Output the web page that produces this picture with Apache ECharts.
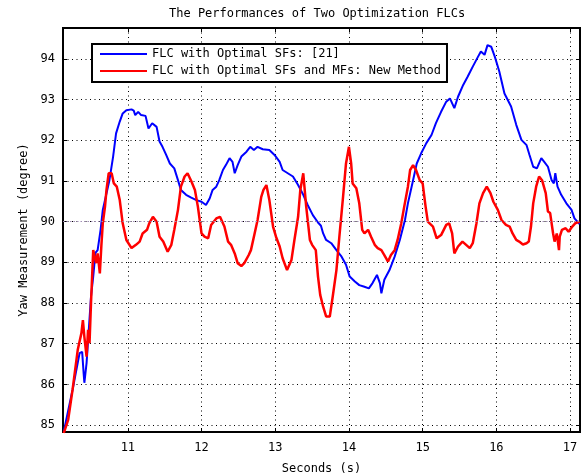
<!DOCTYPE html>
<html>
<head>
<meta charset="utf-8">
<script src="https://cdn.jsdelivr.net/npm/echarts@6/dist/echarts.min.js"></script>
<style>
html,body{margin:0;padding:0;background:#fff;}
#chart{width:582px;height:474px;}
</style>
</head>
<body>
<div id="chart"></div>
<script>
// ---- data ----
const titleText = 'The Performances of Two Optimization FLCs';
const xLabel = 'Seconds (s)';
const yLabel = 'Yaw Measurement (degree)';
const seriesNames = ['FLC with Optimal SFs: [21]', 'FLC with Optimal SFs and MFs: New Method'];
const referenceLevel = 90;

const blueX = [10.13,10.25,10.345,10.38,10.40,10.41,10.44,10.47,10.50,10.53,10.56,10.59,10.63,10.66,10.75,10.80,10.84,10.89,10.93,10.98,
11.05,11.08,11.10,11.14,11.18,11.24,11.28,11.33,11.39,11.43,11.47,11.52,11.57,11.63,11.68,11.72,11.79,11.86,11.93,12.00,
12.06,12.11,12.15,12.20,12.24,12.29,12.33,12.38,12.42,12.45,12.49,12.54,12.61,12.66,12.71,12.76,12.83,12.92,12.99,13.06,
13.10,13.17,13.24,13.31,13.38,13.44,13.51,13.58,13.62,13.65,13.69,13.76,13.83,13.90,13.96,14.01,14.08,14.14,14.21,14.27,
14.32,14.38,14.42,14.44,14.48,14.55,14.62,14.69,14.76,14.80,14.87,14.92,14.98,15.05,15.12,15.18,15.25,15.32,15.37,15.43,
15.48,15.55,15.61,15.68,15.75,15.79,15.84,15.88,15.93,15.98,16.04,16.11,16.20,16.27,16.34,16.41,16.45,16.50,16.55,16.61,
16.65,16.70,16.75,16.78,16.80,16.83,16.88,16.95,17.02,17.06,17.13];
const blueY = [84.84,85.87,86.77,86.80,86.27,86.04,86.53,87.34,88.16,88.65,89.23,89.30,89.80,90.29,91.02,91.60,92.17,92.46,92.66,92.74,
92.76,92.73,92.62,92.70,92.62,92.60,92.29,92.42,92.33,91.97,91.84,91.64,91.43,91.31,91.02,90.78,90.66,90.59,90.53,90.49,
90.41,90.57,90.78,90.86,91.02,91.27,91.39,91.56,91.47,91.19,91.39,91.60,91.72,91.84,91.76,91.84,91.78,91.76,91.64,91.47,
91.27,91.19,91.11,90.90,90.66,90.41,90.16,89.98,89.90,89.71,89.55,89.47,89.30,89.14,88.94,88.65,88.53,88.44,88.40,88.36,
88.49,88.69,88.49,88.24,88.57,88.81,89.14,89.55,90.04,90.45,91.02,91.43,91.68,91.93,92.13,92.42,92.70,92.95,93.03,92.79,
93.07,93.36,93.56,93.81,94.05,94.18,94.10,94.34,94.30,94.05,93.69,93.15,92.83,92.38,92.01,91.88,91.64,91.35,91.31,91.56,
91.47,91.35,91.02,90.94,91.19,90.86,90.66,90.45,90.29,90.08,89.94];

const redX = [10.13,10.19,10.25,10.32,10.37,10.39,10.41,10.44,10.46,10.48,10.50,10.53,10.55,10.57,10.59,10.62,10.64,10.66,10.69,10.71,
10.74,10.78,10.81,10.85,10.89,10.93,10.98,11.05,11.11,11.16,11.20,11.26,11.29,11.34,11.39,11.43,11.48,11.54,11.59,11.63,
11.68,11.72,11.77,11.81,11.86,11.91,11.95,12.00,12.04,12.09,12.13,12.20,12.25,12.31,12.36,12.40,12.45,12.49,12.54,12.58,
12.64,12.67,12.72,12.76,12.81,12.84,12.88,12.92,12.97,13.01,13.06,13.10,13.16,13.22,13.26,13.31,13.34,13.38,13.40,13.42,
13.47,13.50,13.55,13.58,13.61,13.65,13.69,13.74,13.78,13.83,13.87,13.92,13.96,14.00,14.03,14.05,14.10,14.14,14.18,14.21,
14.26,14.30,14.35,14.39,14.44,14.48,14.53,14.57,14.62,14.66,14.71,14.75,14.80,14.83,14.87,14.91,14.96,15.00,15.04,15.07,
15.14,15.19,15.25,15.32,15.36,15.40,15.43,15.48,15.54,15.59,15.64,15.68,15.73,15.77,15.82,15.87,15.92,15.96,16.02,16.07,
16.13,16.18,16.22,16.27,16.31,16.36,16.41,16.44,16.47,16.50,16.54,16.58,16.62,16.67,16.70,16.73,16.77,16.79,16.82,16.85,
16.86,16.89,16.94,16.98,17.03,17.07,17.13];
const redY = [84.80,85.13,85.87,86.85,87.26,87.58,87.17,86.68,87.34,87.01,88.00,89.30,89.14,88.98,89.22,88.73,89.39,89.96,90.37,90.78,
91.19,91.19,90.94,90.86,90.53,89.96,89.55,89.35,89.43,89.51,89.71,89.80,89.96,90.12,90.00,89.63,89.51,89.26,89.43,89.80,
90.29,90.86,91.11,91.19,91.00,90.78,90.37,89.71,89.63,89.59,89.92,90.08,90.12,89.88,89.51,89.43,89.22,88.98,88.91,88.98,
89.18,89.30,89.71,90.04,90.61,90.78,90.90,90.53,89.88,89.63,89.39,89.10,88.81,89.06,89.55,90.12,90.78,91.19,91.15,90.37,
89.55,89.43,89.30,88.65,88.20,87.91,87.67,87.67,88.16,88.81,89.63,90.61,91.43,91.84,91.43,90.94,90.82,90.45,89.80,89.71,
89.80,89.63,89.43,89.35,89.30,89.18,89.02,89.18,89.30,89.55,89.96,90.37,90.86,91.27,91.39,91.27,91.02,90.94,90.37,90.00,
89.88,89.59,89.67,89.92,89.96,89.71,89.22,89.39,89.51,89.43,89.35,89.47,89.96,90.45,90.70,90.86,90.70,90.49,90.29,90.04,
89.92,89.88,89.71,89.55,89.51,89.44,89.47,89.51,89.88,90.45,90.86,91.11,91.02,90.70,90.25,90.21,89.71,89.51,89.71,89.30,
89.63,89.80,89.84,89.75,89.88,89.96,90.00];

const xMin = 10.12, xMax = 17.135;
const yMin = 84.83, yMax = 94.76;

// ---- chart ----
const FONT = 'DejaVu Sans Mono';
const zip = (xs, ys) => xs.map((x, i) => [x, ys[i]]);
const intFmt = v => (Math.abs(v - Math.round(v)) < 1e-6 ? String(Math.round(v)) : '');

const chart = echarts.init(document.getElementById('chart'), null, {renderer: 'canvas'});
const gridDot = {show: true, lineStyle: {color: '#000', width: 1, type: [1, 3.5]}};
const tick = {show: true, inside: true, length: 4, lineStyle: {color: '#000', width: 1}};

chart.setOption({
  animation: false,
  backgroundColor: '#fff',
  title: {
    text: titleText, left: 169, top: 8, padding: 0,
    textStyle: {fontFamily: FONT, fontSize: 12, fontWeight: 'normal', color: '#000'}
  },
  grid: {left: 63, right: 2, top: 28, bottom: 42, containLabel: false, outerBoundsMode: 'none',
         show: true, borderColor: '#000', borderWidth: 2, backgroundColor: '#fff'},
  legend: {
    orient: 'vertical', left: 92, top: 44,
    padding: [4, 6, 5, 7], itemWidth: 47, itemHeight: 14, itemGap: 5, itemTextGap: 2,
    borderColor: '#000', borderWidth: 2, backgroundColor: '#fff',
    itemStyle: {opacity: 0},
    textStyle: {fontFamily: FONT, fontSize: 12, color: '#000'},
    data: seriesNames
  },
  xAxis: [
    {type: 'value', position: 'bottom', min: xMin, max: xMax, splitNumber: 7,
     name: xLabel, nameLocation: 'middle', nameGap: 31,
     nameTextStyle: {fontFamily: FONT, fontSize: 12, color: '#000'},
     axisLine: {show: false}, axisTick: tick, splitLine: gridDot,
     axisLabel: {formatter: intFmt, margin: 10, fontFamily: FONT, fontSize: 12, color: '#000'}},
    {type: 'value', position: 'top', min: xMin, max: xMax, splitNumber: 7,
     axisLine: {show: false}, axisTick: tick, splitLine: {show: false}, axisLabel: {show: false}}
  ],
  yAxis: [
    {type: 'value', position: 'left', min: yMin, max: yMax, splitNumber: 10,
     name: yLabel, nameLocation: 'middle', nameGap: 26,
     nameTextStyle: {fontFamily: FONT, fontSize: 12, color: '#000'},
     axisLine: {show: false}, axisTick: tick, splitLine: gridDot,
     axisLabel: {formatter: intFmt, margin: 8, fontFamily: FONT, fontSize: 12, color: '#000'}},
    {type: 'value', position: 'right', min: yMin, max: yMax, splitNumber: 10,
     axisLine: {show: false}, axisTick: tick, splitLine: {show: false}, axisLabel: {show: false}}
  ],
  series: [
    {name: seriesNames[0], type: 'line', data: zip(blueX, blueY), symbol: 'none', smooth: false,
     lineStyle: {color: '#0000ff', width: 2}, itemStyle: {color: '#0000ff'}, z: 2,
     markLine: {silent: true, symbol: 'none', label: {show: false},
       lineStyle: {color: '#a08cb4', width: 1, type: [1.5, 2]}, data: [{yAxis: referenceLevel}]}},
    {name: seriesNames[1], type: 'line', data: zip(redX, redY), symbol: 'none', smooth: false,
     lineStyle: {color: '#ff0000', width: 2.5}, itemStyle: {color: '#ff0000'}, z: 3}
  ]
});
</script>
</body>
</html>
